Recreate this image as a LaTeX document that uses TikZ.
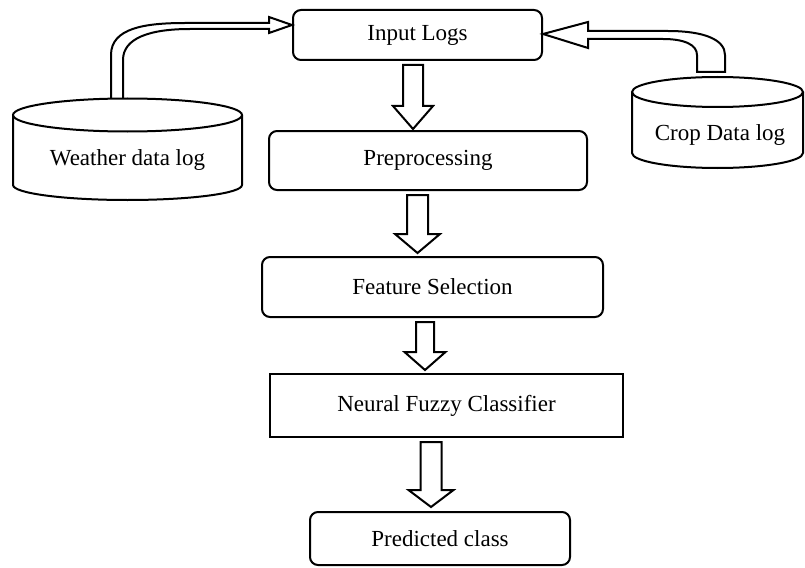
\documentclass[tikz,border=0pt]{standalone}
\usepackage{fontspec}
\setmainfont{Liberation Serif}
\usetikzlibrary{calc}
\tikzset{
  box/.style={draw, line width=2pt, rounded corners=8pt, inner sep=0pt, font=\fontsize{23}{27}\selectfont},
  sqbox/.style={draw, line width=2pt, inner sep=0pt, font=\fontsize{23}{27}\selectfont},
  lbl/.style={inner sep=0pt, font=\fontsize{23}{27}\selectfont},
  barrow/.style={draw, line width=2pt, line join=miter, fill=white},
  cyl/.style={draw, line width=2pt}
}
\newcommand\blockdn[7]{%
  \draw[barrow] let \p1=(#1.south), \p2=(#2.north) in
    ({(#3-#4)*1pt},{\y1-4pt}) -- ({(#3+#4)*1pt},{\y1-4pt})
    -- ({(#3+#4)*1pt},{\y2+#7pt+#6pt}) -- ({(#3+#5)*1pt},{\y2+#7pt+#6pt})
    -- ({#3*1pt},{\y2+#7pt}) -- ({(#3-#5)*1pt},{\y2+#7pt+#6pt})
    -- ({(#3-#4)*1pt},{\y2+#7pt+#6pt}) -- cycle;}
\begin{document}
\begin{tikzpicture}[x=1pt, y=-1pt]
\useasboundingbox (0,0) rectangle (805,567);
% boxes
\node[box, minimum width=249, minimum height=50] (inp) at (417.5,35) {Input Logs};
\node[box, minimum width=318, minimum height=59] (pre) at (428,160.5) {Preprocessing};
\node[box, minimum width=341, minimum height=60] (fs) at (432.5,287) {Feature Selection};
\node[sqbox, minimum width=353, minimum height=63] (nf) at (446.5,405.5) {Neural Fuzzy Classifier};
\node[box, minimum width=260, minimum height=53] (pc) at (440,538.5) {Predicted class};
% weather cylinder
\draw[cyl] (127.5,115) ellipse [x radius=114.5, y radius=16.5];
\draw[cyl] (13,115) -- (13,185) .. controls (13,193.3) and (64.3,200) .. (127.5,200)
  .. controls (190.7,200) and (242,193.3) .. (242,185) -- (242,115);
\node[lbl] (weather) at (127.5,160) {Weather data log};
\coordinate (wtop) at (117,99);
% crop cylinder
\draw[cyl] (717.5,92) ellipse [x radius=85.5, y radius=15];
\draw[cyl] (632,92) -- (632,153) .. controls (632,161.3) and (670.3,168) .. (717.5,168)
  .. controls (764.7,168) and (803,161.3) .. (803,153) -- (803,92);
\node[lbl] (crop) at (720,135) {Crop Data log};
\coordinate (ctop) at (711,72);
% curved block arrows
\coordinate (wtip) at (inp.west |- 0,25);
\draw[barrow, fill=none] ([xshift=6pt]wtop) -- (123,60) .. controls (123,38) and (150,29) .. (190,29)
  -- (269,29) -- (269,33) -- (wtip) -- (269,17) -- (269,23) -- (185,23)
  .. controls (145,23) and (111,28) .. (111,55) -- ([xshift=-6pt]wtop);
\coordinate (ctip) at (inp.east |- 0,34);
\draw[barrow] (ctip) -- (588,22) -- (588,31) -- (668,31) .. controls (705,31) and (725,40) .. (725,55)
  -- ([xshift=14pt]ctop) -- ([xshift=-14pt]ctop) -- (697,55)
  .. controls (697,45) and (685,39) .. (663,39) -- (588,39) -- (588,48) -- cycle;
% straight block arrows
\blockdn{inp}{pre}{413}{10}{20}{23}{1}
\blockdn{pre}{fs}{417.5}{10.5}{22.5}{19}{3}
\blockdn{fs}{nf}{425}{9}{20.5}{18}{3}
\blockdn{nf}{pc}{431}{10.5}{22.5}{17}{4}
\end{tikzpicture}
\end{document}
